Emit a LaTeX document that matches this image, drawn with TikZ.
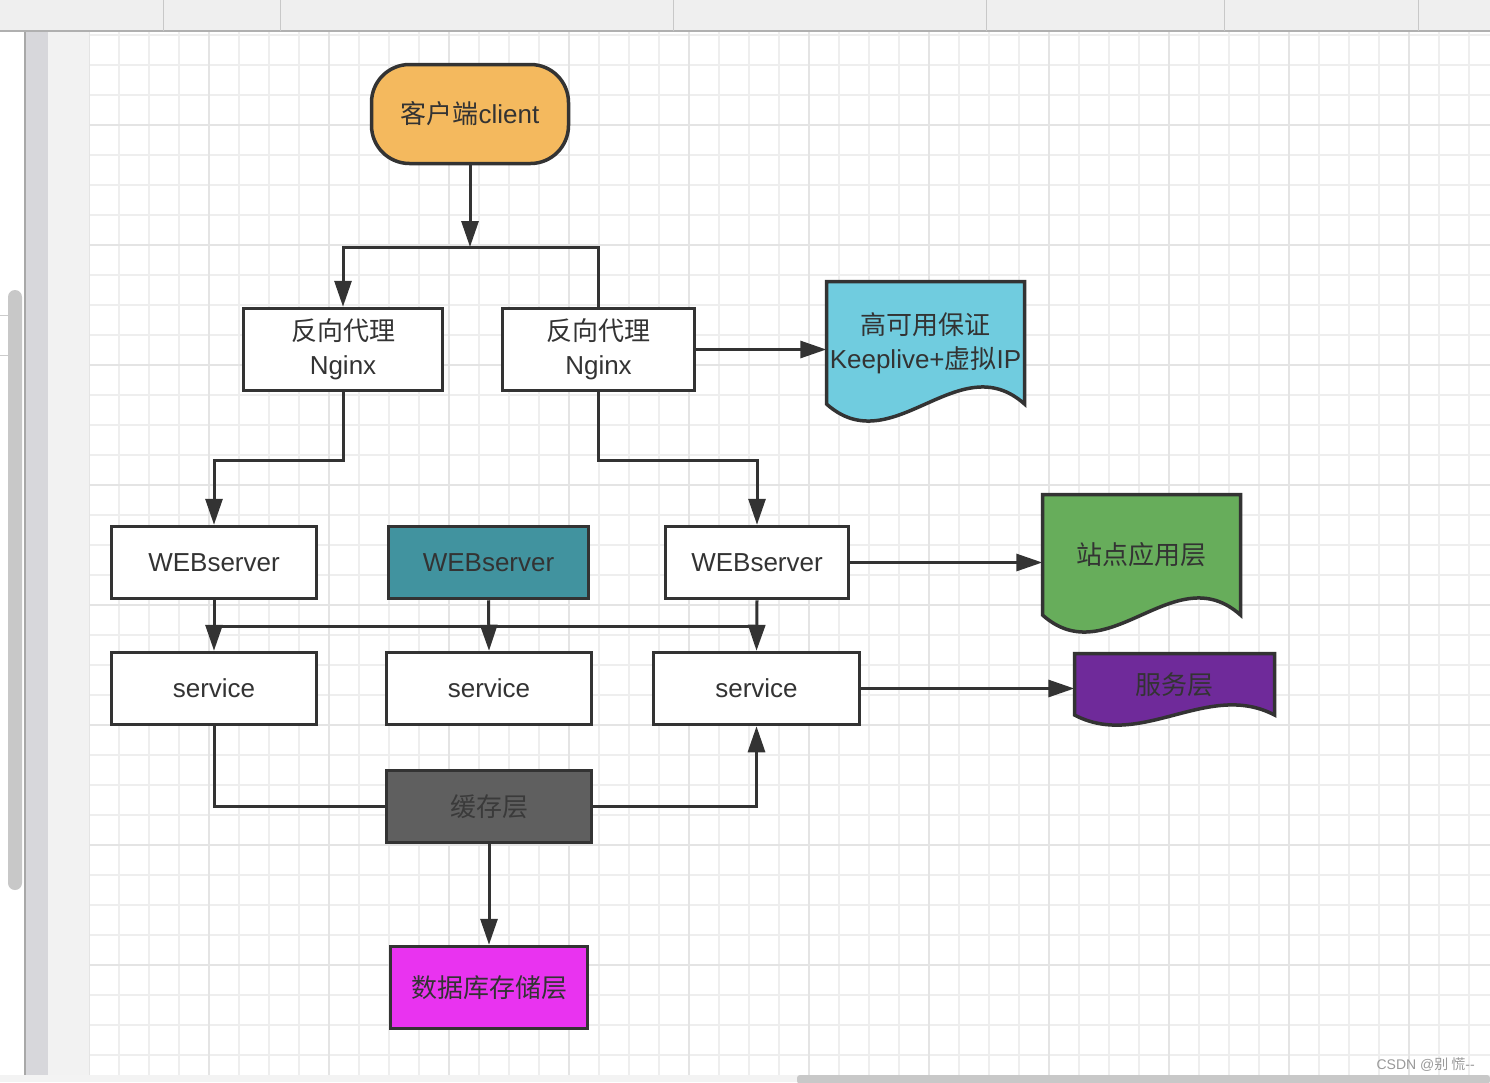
\documentclass[tikz,border=0pt]{standalone}
\usepackage{fontspec}
\setmainfont{Liberation Sans}
\newfontfamily\cjk{Noto Sans CJK SC}
\usetikzlibrary{arrows.meta,calc}
\definecolor{stroke}{HTML}{333333}
\definecolor{cOrange}{HTML}{F4B95E}
\definecolor{cCyan}{HTML}{70CCDF}
\definecolor{cTeal}{HTML}{41939F}
\definecolor{cGreen}{HTML}{67AD5B}
\definecolor{cPurple}{HTML}{6F2A9A}
\definecolor{cGray}{HTML}{5F5F5F}
\definecolor{cMagenta}{HTML}{E933F0}
\definecolor{cacheText}{HTML}{3A3A3A}
\definecolor{gridMinor}{HTML}{EEEEEE}
\definecolor{gridMajor}{HTML}{E4E4E4}
\definecolor{toolBg}{HTML}{EFEFEF}
\definecolor{toolLine}{HTML}{B0B0B0}
\definecolor{toolSep}{HTML}{C8C8C8}
\definecolor{sideLight}{HTML}{F2F2F2}
\definecolor{sideDark}{HTML}{D7D7DB}
\definecolor{sideLine}{HTML}{A8A8A8}
\definecolor{scrollC}{HTML}{C8C8C8}
\definecolor{tickC}{HTML}{CCCCCC}
\definecolor{bottomBg}{HTML}{F3F3F3}
\definecolor{wmText}{HTML}{999999}
\begin{document}
\begin{tikzpicture}[x=1pt,y=-1pt,
  lbl/.style={text=stroke,font=\fontsize{26}{34}\selectfont,align=center,inner sep=0pt},
  box/.style={lbl,draw=stroke,line width=3.5pt,fill=white},
  docnode/.style={lbl,draw=none},
  docshape/.style={draw=stroke,line width=3.5pt},
  conn/.style={draw=stroke,line width=3pt},
  arr/.style={conn,-{Triangle[length=26pt,width=17pt]}},
  gminor/.style={draw=gridMinor,line width=1.5pt},
  gmajor/.style={draw=gridMajor,line width=2pt},
]
\useasboundingbox (0,0) rectangle (1490,1082);
% ---------- editor chrome ----------
\fill[white] (0,0) rectangle (1490,1082);
\fill[toolBg] (0,0) rectangle (1490,31);
\draw[toolLine,line width=2pt] (0,31) -- (1490,31);
\foreach \sx in {163,280,673,986,1224,1418}
  \draw[toolSep,line width=1pt] (\sx,0) -- (\sx,31);
\fill[sideLight] (48,32) rectangle (89,1082);
\fill[sideDark] (26,32) rectangle (48,1082);
\draw[sideLine,line width=2pt] (25,32) -- (25,1082);
\fill[scrollC,rounded corners=7pt] (8,290) rectangle (22,890);
\draw[tickC,line width=1pt] (0,315) -- (8,315) (0,355) -- (8,355);
% ---------- grid ----------
\begin{scope}
\clip (89,32) rectangle (1490,1075);
\foreach \gx in {119,149,...,1489} \draw[gminor] (\gx,32) -- (\gx,1075);
\foreach \gy in {35,65,...,1075} \draw[gminor] (89,\gy) -- (1490,\gy);
\foreach \gx in {89,209,...,1489} \draw[gmajor] (\gx,32) -- (\gx,1075);
\foreach \gy in {125,245,...,1085} \draw[gmajor] (89,\gy) -- (1490,\gy);
\end{scope}
\fill[bottomBg] (0,1075) rectangle (1490,1082);
\fill[scrollC,rounded corners=3pt] (797,1075) rectangle (1490,1084);
\node[text=wmText,font=\fontsize{14}{16}\selectfont,anchor=east,inner sep=0pt] (wm) at (1475,1065) {CSDN @{\cjk 别 慌}-{}-};
% ---------- document shapes ----------
\filldraw[docshape,fill=cCyan] (826.5,404) -- (826.5,281.5) -- (1024.5,281.5) -- (1024.5,404)
  .. controls (958.5,345) and (892.5,463) .. (826.5,404) -- cycle;
\filldraw[docshape,fill=cGreen] (1042.5,615) -- (1042.5,494.5) -- (1240.5,494.5) -- (1240.5,615)
  .. controls (1174.5,556) and (1108.5,674) .. (1042.5,615) -- cycle;
\filldraw[docshape,fill=cPurple] (1074.5,715) -- (1074.5,653.5) -- (1274.5,653.5) -- (1274.5,715)
  .. controls (1207.8,680) and (1141.2,750) .. (1074.5,715) -- cycle;
% ---------- nodes ----------
\node[box,fill=cOrange,rounded corners=38pt,minimum width=197pt,minimum height=99pt] (client) at (470,114) {{\cjk 客户端}client};
\node[box,minimum width=199pt,minimum height=82pt] (ng1) at (343,349.5) {{\cjk 反向代理}\\Nginx};
\node[box,minimum width=192pt,minimum height=82pt] (ng2) at (598.5,349.5) {{\cjk 反向代理}\\Nginx};
\node[docnode,minimum width=198pt,minimum height=122.5pt] (ha) at (925.5,342.75) {{\cjk 高可用保证}\\Keeplive+{\cjk 虚拟}IP};
\node[box,minimum width=205pt,minimum height=72pt] (web1) at (214,562.5) {WEBserver};
\node[box,fill=cTeal,minimum width=200pt,minimum height=72pt] (web2) at (488.5,562.5) {WEBserver};
\node[box,minimum width=183pt,minimum height=72pt] (web3) at (757,562.5) {WEBserver};
\node[docnode,minimum width=198pt,minimum height=120.5pt] (site) at (1141.5,554.75) {\cjk 站点应用层};
\node[box,minimum width=205pt,minimum height=72pt] (svc1) at (214,688.5) {service};
\node[box,minimum width=205pt,minimum height=72pt] (svc2) at (489,688.5) {service};
\node[box,minimum width=206pt,minimum height=72pt] (svc3) at (756.5,688.5) {service};
\node[docnode,minimum width=200pt,minimum height=61.5pt] (svcl) at (1174.5,684.25) {\cjk 服务层};
\node[box,fill=cGray,text=cacheText,minimum width=205pt,minimum height=72pt] (cache) at (489,806.5) {\cjk 缓存层};
\node[box,fill=cMagenta,minimum width=197pt,minimum height=82pt] (db) at (489,987.5) {\cjk 数据库存储层};
% ---------- connectors ----------
\coordinate (b1) at (470,247);
\coordinate (b2) at (0,460);
\coordinate (b3) at (0,626);
\draw[arr] (client.south) -- (b1);
\draw[arr] (b1) -| (ng1.north);
\draw[conn] (b1) -| (ng2.north);
\draw[arr] (ng2.east) -- (ng2.east -| ha.west);
\draw[arr] (ng1.south) -- (ng1.south |- b2) -| (web1.north);
\draw[arr] (ng2.south) -- (ng2.south |- b2) -| (web3.north);
\draw[arr] (web3.east) -- (web3.east -| site.west);
\draw[conn] (web1.south |- b3) -- (web3.south |- b3);
\draw[arr] (web1.south) -- (svc1.north);
\draw[arr] (web2.south) -- (svc2.north);
\draw[arr] (web3.south) -- (svc3.north);
\draw[arr] (svc3.east) -- (svc3.east -| svcl.west);
\draw[conn] (svc1.south) |- (cache.west);
\draw[arr] (cache.east) -| (svc3.south);
\draw[arr] (cache.south) -- (db.north);
\end{tikzpicture}
\end{document}
